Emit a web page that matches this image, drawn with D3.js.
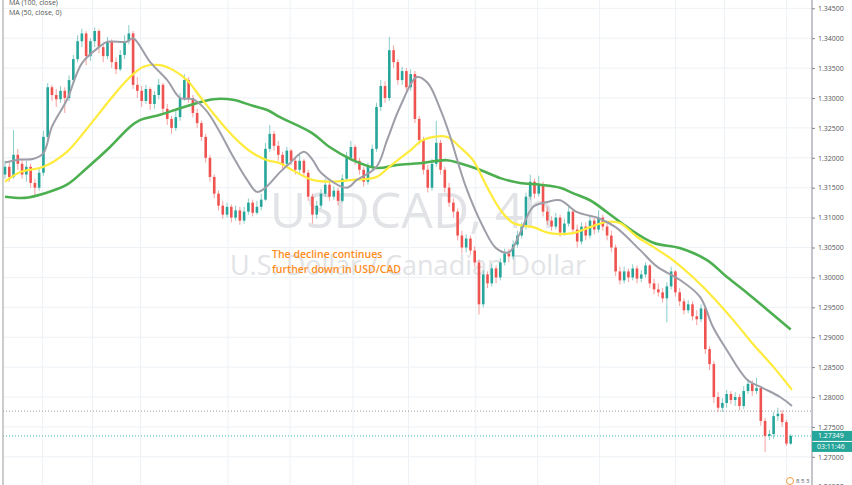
<!DOCTYPE html>
<html><head><meta charset="utf-8">
<script src="https://cdn.jsdelivr.net/npm/d3@7"></script>
<style>
html,body{margin:0;padding:0;background:#fff;overflow:hidden}
svg{display:block;font-family:"Open Sans",sans-serif}
</style></head><body>
<svg id="c" width="852" height="485"></svg>
<script>
// ---- data (USDCAD 4h) ----
const firstOpen = 1.3172;
const closes = [
 1.3185,1.3168,1.3205,1.3190,1.3172,1.3185,1.3158,1.3150,1.3175,1.3235,
 1.3318,1.3305,1.3298,1.3312,1.3300,1.3330,1.3365,1.3395,1.3408,1.3370,
 1.3395,1.3412,1.3385,1.3370,1.3395,1.3360,1.3348,1.3372,1.3395,1.3408,
 1.3322,1.3312,1.3295,1.3315,1.3290,1.3305,1.3322,1.3282,1.3265,1.3250,
 1.3268,1.3300,1.3330,1.3300,1.3275,1.3258,1.3235,1.3200,1.3168,1.3140,
 1.3120,1.3105,1.3118,1.3100,1.3112,1.3095,1.3110,1.3125,1.3108,1.3118,
 1.3130,1.3215,1.3240,1.3220,1.3205,1.3190,1.3212,1.3195,1.3180,1.3195,
 1.3175,1.3135,1.3105,1.3120,1.3140,1.3155,1.3135,1.3145,1.3128,1.3165,
 1.3200,1.3218,1.3195,1.3180,1.3160,1.3185,1.3215,1.3285,1.3320,1.3300,
 1.3380,1.3360,1.3330,1.3345,1.3318,1.3340,1.3265,1.3230,1.3180,1.3150,
 1.3190,1.3225,1.3180,1.3150,1.3125,1.3110,1.3070,1.3050,1.3065,1.3045,
 1.3025,1.2955,1.3005,1.2990,1.3015,1.3000,1.3025,1.3040,1.3035,1.3055,
 1.3070,1.3085,1.3135,1.3160,1.3140,1.3155,1.3110,1.3095,1.3085,1.3100,
 1.3075,1.3090,1.3110,1.3080,1.3060,1.3085,1.3070,1.3095,1.3080,1.3100,
 1.3085,1.3070,1.3050,1.3010,1.2995,1.3010,1.3000,1.3015,1.2998,1.3005,
 1.3020,1.2990,1.2980,1.2975,1.2965,1.2985,1.3010,1.2975,1.2960,1.2945,
 1.2955,1.2935,1.2930,1.2948,1.2880,1.2855,1.2800,1.2782,1.2790,1.2805,
 1.2795,1.2800,1.2785,1.2810,1.2822,1.2810,1.2815,1.2760,1.2735,1.2738,
 1.2768,1.2772,1.2758,1.2722,1.27349];
const highs = [
 1.3195,1.3192,1.3246,1.3215,1.3198,1.3195,1.3190,1.3165,1.3182,1.3245,
 1.3325,1.3322,1.3315,1.3320,1.3318,1.3338,1.3372,1.3405,1.3416,1.3412,
 1.3400,1.3418,1.3415,1.3392,1.3402,1.3398,1.3368,1.3380,1.3405,1.3422,
 1.3412,1.3335,1.3320,1.3322,1.3318,1.3312,1.3332,1.3325,1.3290,1.3270,
 1.3278,1.3308,1.3340,1.3335,1.3305,1.3282,1.3262,1.3240,1.3205,1.3172,
 1.3145,1.3128,1.3125,1.3122,1.3120,1.3118,1.3118,1.3132,1.3130,1.3128,
 1.3140,1.3225,1.3255,1.3245,1.3228,1.3210,1.3218,1.3215,1.3200,1.3205,
 1.3198,1.3180,1.3140,1.3128,1.3148,1.3165,1.3160,1.3152,1.3150,1.3172,
 1.3210,1.3228,1.3222,1.3200,1.3185,1.3192,1.3222,1.3292,1.3330,1.3328,
 1.3402,1.3388,1.3365,1.3352,1.3350,1.3348,1.3345,1.3270,1.3235,1.3188,
 1.3198,1.3262,1.3230,1.3185,1.3158,1.3132,1.3115,1.3078,1.3072,1.3070,
 1.3052,1.3030,1.3012,1.3010,1.3022,1.3020,1.3032,1.3048,1.3048,1.3062,
 1.3078,1.3092,1.3142,1.3172,1.3165,1.3170,1.3160,1.3118,1.3102,1.3108,
 1.3105,1.3098,1.3118,1.3115,1.3088,1.3092,1.3092,1.3102,1.3100,1.3112,
 1.3105,1.3092,1.3078,1.3055,1.3018,1.3018,1.3015,1.3022,1.3020,1.3012,
 1.3025,1.3022,1.2998,1.2990,1.2982,1.2992,1.3018,1.3012,1.2982,1.2965,
 1.2962,1.2960,1.2945,1.2955,1.2950,1.2885,1.2860,1.2808,1.2798,1.2812,
 1.2810,1.2808,1.2805,1.2818,1.2830,1.2828,1.2832,1.2818,1.2765,1.2745,
 1.2775,1.2782,1.2778,1.2762,1.2738];
const lows = [
 1.3165,1.3160,1.3165,1.3180,1.3165,1.3160,1.3150,1.3138,1.3145,1.3170,
 1.3230,1.3295,1.3285,1.3292,1.3275,1.3295,1.3325,1.3360,1.3385,1.3355,
 1.3362,1.3385,1.3375,1.3360,1.3365,1.3350,1.3340,1.3345,1.3365,1.3390,
 1.3315,1.3300,1.3285,1.3290,1.3280,1.3282,1.3298,1.3275,1.3255,1.3240,
 1.3245,1.3262,1.3295,1.3292,1.3268,1.3250,1.3228,1.3192,1.3160,1.3132,
 1.3112,1.3098,1.3100,1.3092,1.3095,1.3088,1.3090,1.3105,1.3102,1.3105,
 1.3112,1.3128,1.3210,1.3212,1.3195,1.3182,1.3185,1.3188,1.3172,1.3175,
 1.3168,1.3128,1.3090,1.3098,1.3115,1.3135,1.3128,1.3130,1.3120,1.3125,
 1.3160,1.3195,1.3188,1.3172,1.3152,1.3155,1.3180,1.3210,1.3278,1.3292,
 1.3295,1.3350,1.3322,1.3322,1.3310,1.3312,1.3258,1.3222,1.3172,1.3142,
 1.3145,1.3185,1.3172,1.3142,1.3118,1.3100,1.3062,1.3040,1.3042,1.3038,
 1.3018,1.2938,1.2950,1.2982,1.2985,1.2990,1.2995,1.3020,1.3025,1.3030,
 1.3050,1.3065,1.3080,1.3130,1.3132,1.3135,1.3102,1.3088,1.3078,1.3080,
 1.3068,1.3070,1.3085,1.3072,1.3050,1.3055,1.3062,1.3065,1.3072,1.3075,
 1.3078,1.3062,1.3042,1.3002,1.2988,1.2990,1.2992,1.2995,1.2990,1.2992,
 1.3000,1.2982,1.2972,1.2968,1.2958,1.2925,1.2980,1.2968,1.2952,1.2938,
 1.2940,1.2928,1.2920,1.2925,1.2872,1.2845,1.2790,1.2775,1.2775,1.2782,
 1.2788,1.2785,1.2778,1.2780,1.2805,1.2802,1.2805,1.2752,1.2708,1.2728,
 1.2730,1.2760,1.2750,1.2718,1.2720];

// moving averages: [candle index, value]
const maShort = [[0,1.3192],[3.5,1.3197],[6.5,1.3198],[9,1.3208],[11,1.3252],[14.5,1.3297],[18,1.3358],[22,1.3385],[24,1.3394],[28.5,1.3394],[30,1.3400],[34,1.3360],[38,1.3330],[41,1.3300],[44,1.3298],[47,1.3280],[50,1.3247],[53.4,1.3202],[56.7,1.3163],[59,1.3143],[61,1.3150],[64.4,1.3176],[66.7,1.3191],[70,1.3210],[72,1.3197],[74,1.3175],[80,1.3150],[82.4,1.3163],[87,1.3185],[89.5,1.3230],[92.5,1.3285],[96.5,1.3335],[99,1.3325],[102,1.3280],[104,1.3241],[108,1.3150],[112,1.3084],[115,1.3049],[118,1.3042],[120.6,1.3074],[123.7,1.3118],[127,1.3126],[130,1.3129],[134,1.3109],[139,1.3099],[143,1.3084],[148.7,1.3046],[152.7,1.3018],[158,1.2996],[162.8,1.2967],[165.8,1.2917],[169,1.2879],[173.8,1.2829],[177.5,1.2815],[181.5,1.2800],[184.3,1.2785]];
const ma50 = [[0,1.3160],[3.5,1.3176],[9,1.3185],[14.5,1.3210],[19,1.3247],[24.6,1.3297],[28.6,1.3330],[32.3,1.3352],[36.3,1.3355],[39.3,1.3347],[42.6,1.3330],[45.7,1.3302],[48.7,1.3275],[52,1.3247],[55,1.3225],[58,1.3208],[61.4,1.3196],[64.4,1.3191],[67.4,1.3179],[72,1.3163],[76,1.3160],[81.5,1.3163],[87,1.3168],[90,1.3185],[95,1.3213],[98,1.3230],[103.5,1.3235],[106.5,1.3218],[109.6,1.3196],[112.9,1.3151],[116,1.3113],[119,1.3091],[123.7,1.3084],[127.6,1.3074],[133,1.3074],[137,1.3084],[141,1.3093],[144,1.3091],[148,1.3068],[151.8,1.3051],[156.4,1.3029],[161,1.3001],[165.8,1.2967],[170.5,1.2929],[175,1.2890],[180,1.2850],[184.3,1.2812]];
const ma100 = [[0,1.3135],[4.7,1.3133],[9,1.3140],[14.5,1.3155],[19.2,1.3183],[24.6,1.3218],[29.3,1.3252],[31.6,1.3263],[36.3,1.3272],[41,1.3283],[45.7,1.3293],[48.7,1.3298],[53.4,1.3297],[58,1.3287],[61.4,1.3280],[64.4,1.3268],[72,1.3241],[76,1.3218],[81.5,1.3196],[87,1.3183],[91.8,1.3188],[97.2,1.3191],[103.5,1.3196],[106.5,1.3191],[111.2,1.3180],[116,1.3166],[120.6,1.3158],[125.3,1.3155],[130,1.3150],[133,1.3141],[137,1.3129],[141,1.3109],[145.7,1.3084],[151.8,1.3058],[158,1.3049],[164.4,1.3029],[169,1.3001],[173.8,1.2974],[178.5,1.2946],[184,1.2913]];

const priceTicks = [1.345,1.34,1.335,1.33,1.325,1.32,1.315,1.31,1.305,1.30,1.295,1.29,1.285,1.28,1.275,1.27,1.265];
const timeGrid = [8.75,20.5,31.75,52.25,66.75,81.5,94.5,110.25,124.75,139.25,157,168.5,183];
const lastPrice = 1.27349, refPrice = 1.27764, timerText = "03:11:46";
const legendLines = ["MA (100, close)", "MA (50, close, 0)"];
const titleText = "USDCAD, 4h", subtitleText = "U.S. Dollar / Canadian Dollar";
const noteLines = ["The decline continues", "further down in USD/CAD"];

// ---- drawing ----
const svg = d3.select("#c");
const W = 852, H = 485, plotL = 3, plotR = 812;
const x = d3.scaleLinear().domain([0, 184]).range([5, 790.7]);
const y = d3.scaleLinear().domain([1.27, 1.345]).range([456.8, 8.3]);

const candles = closes.map((c, i) => ({i, o: i === 0 ? firstOpen : closes[i-1], c, h: highs[i], l: lows[i]}));

const gridC = "#edf2f6";
svg.append("g").selectAll("line").data(priceTicks).join("line")
  .attr("x1", plotL).attr("x2", plotR).attr("y1", d => y(d)).attr("y2", d => y(d))
  .attr("stroke", gridC).attr("stroke-width", 1);
svg.append("g").selectAll("line").data(timeGrid).join("line")
  .attr("x1", d => x(d)).attr("x2", d => x(d)).attr("y1", 0).attr("y2", H)
  .attr("stroke", gridC).attr("stroke-width", 1);

// watermark
svg.append("text").attr("x", 412).attr("y", 228).attr("text-anchor", "middle")
  .attr("font-size", 50).attr("fill", "#e2e3e6").text(titleText);
svg.append("text").attr("x", 408).attr("y", 275).attr("text-anchor", "middle")
  .attr("font-size", 27).attr("fill", "#e2e3e6").text(subtitleText);

// reference dotted lines
svg.append("line").attr("x1", plotL).attr("x2", plotR).attr("y1", y(refPrice)).attr("y2", y(refPrice))
  .attr("stroke", "#9a9a9a").attr("stroke-dasharray", "1,2");
svg.append("line").attr("x1", plotL).attr("x2", plotR).attr("y1", y(lastPrice)).attr("y2", y(lastPrice))
  .attr("stroke", "#3fb5a8").attr("stroke-dasharray", "1,2");

// candles
const up = "#26a69a", dn = "#ef5350";
const cg = svg.append("g");
cg.selectAll("line").data(candles).join("line")
  .attr("x1", d => x(d.i)).attr("x2", d => x(d.i))
  .attr("y1", d => y(d.h)).attr("y2", d => y(d.l))
  .attr("stroke", d => d.c >= d.o ? up : dn).attr("stroke-opacity", 0.55).attr("stroke-width", 1);
cg.selectAll("rect").data(candles).join("rect")
  .attr("x", d => x(d.i) - 1.3).attr("width", 2.6)
  .attr("y", d => y(Math.max(d.o, d.c)))
  .attr("height", d => Math.max(1, Math.abs(y(d.o) - y(d.c))))
  .attr("fill", d => d.c >= d.o ? up : dn);

// moving averages
const line = d3.line().x(d => x(d[0])).y(d => y(d[1])).curve(d3.curveCatmullRom.alpha(0.5));
svg.append("path").attr("d", line(ma100)).attr("fill", "none").attr("stroke", "#4caf50").attr("stroke-width", 2.6);
svg.append("path").attr("d", line(ma50)).attr("fill", "none").attr("stroke", "#ffeb3b").attr("stroke-width", 2.2);
svg.append("path").attr("d", line(maShort)).attr("fill", "none").attr("stroke", "#9e9ea8").attr("stroke-width", 2);

// annotation
svg.append("g").selectAll("text").data(noteLines).join("text")
  .attr("x", 272).attr("y", (d, k) => 258 + k * 15)
  .attr("font-size", 10.5).attr("font-weight", 600).attr("fill", "#ff8c1a").text(d => d);

// borders
svg.append("line").attr("x1", plotL).attr("x2", plotL).attr("y1", 0).attr("y2", H).attr("stroke", "#9a9a9a");
svg.append("line").attr("x1", plotR).attr("x2", plotR).attr("y1", 0).attr("y2", H).attr("stroke", "#8a8a95");

// right axis
const ax = svg.append("g").attr("transform", `translate(${plotR},0)`)
  .call(d3.axisRight(y).tickValues(priceTicks).tickFormat(d3.format(".5f")).tickSize(3).tickPadding(3));
ax.select(".domain").remove();
ax.selectAll("line").attr("stroke", "#888");
ax.selectAll("text").attr("font-size", 7).attr("fill", "#555").attr("font-family", "Open Sans, sans-serif");

// price / timer labels
const lb = svg.append("g");
lb.append("rect").attr("x", plotR).attr("y", y(lastPrice) - 5).attr("width", 40).attr("height", 10).attr("fill", "#26a69a");
lb.append("text").attr("x", plotR + 6).attr("y", y(lastPrice) + 2.5).attr("font-size", 7).attr("fill", "#fff").text(lastPrice.toFixed(5));
lb.append("rect").attr("x", plotR).attr("y", y(lastPrice) + 6).attr("width", 40).attr("height", 10).attr("fill", "#26a69a");
lb.append("text").attr("x", plotR + 5).attr("y", y(lastPrice) + 13.5).attr("font-size", 7).attr("fill", "#fff").text(timerText);

// legend
svg.append("g").selectAll("text").data(legendLines).join("text")
  .attr("x", 9).attr("y", (d, k) => 5 + k * 9.5).attr("font-size", 7).attr("fill", "#555").text(d => d);

// small footer icon text
svg.append("circle").attr("cx", 790).attr("cy", 481).attr("r", 3.5).attr("fill", "none").attr("stroke", "#f0a040").attr("stroke-width", 1);
svg.append("text").attr("x", 796).attr("y", 483).attr("font-size", 6).attr("fill", "#556").text("8 5 3");
</script>
</body></html>
